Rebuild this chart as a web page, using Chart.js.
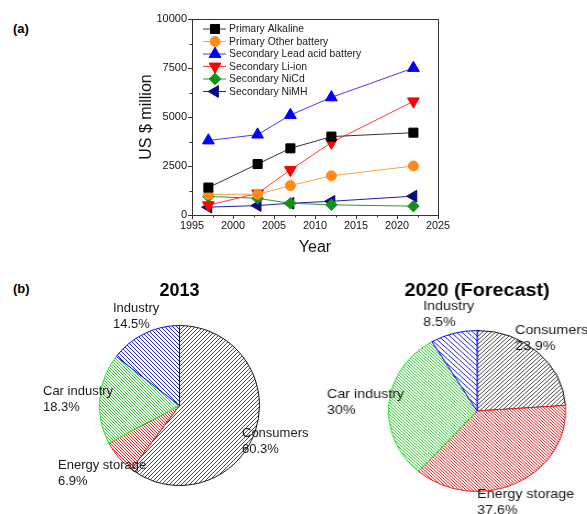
<!DOCTYPE html>
<html>
<head>
<meta charset="utf-8">
<script src="https://cdn.jsdelivr.net/npm/chart.js@4.4.1/dist/chart.umd.min.js"></script>
<style>
  html, body { margin: 0; padding: 0; background: #fff; }
  body { position: relative; width: 587px; height: 514px; overflow: hidden;
         font-family: "Liberation Sans", Arial, sans-serif; }
  canvas { position: absolute; }
  #market { left: 130px; top: 0; }
  #pie2013 { left: 0; top: 270px; }
  #pie2020 { left: 300px; top: 270px; transform: scaleX(1.1); transform-origin: 0 0; }
  .panel { position: absolute; font-weight: bold; font-size: 13px; color: #000; }
</style>
</head>
<body>
<div class="panel" style="left:13px;top:21px">(a)</div>
<div class="panel" style="left:13px;top:281px">(b)</div>
<canvas id="market" width="330" height="262"></canvas>
<canvas id="pie2013" width="330" height="244"></canvas>
<canvas id="pie2020" width="261" height="244"></canvas>
<script>
// ---- battery market, US $ million ----
const years = [1997, 2003, 2007, 2012, 2022];
const primaryAlkaline = [1400, 2600, 3400, 4000, 4200];
const primaryOther    = [1050, 1060, 1500, 2000, 2500];
const leadAcid        = [3800, 4100, 5100, 6000, 7500];
const liIon           = [500, 1100, 2300, 3700, 5800];
const niCd            = [950, 850, 600, 520, 450];
const niMH            = [400, 480, 600, 700, 960];
const seriesNames = ['Primary Alkaline', 'Primary Other battery', 'Secondary Lead acid battery',
                     'Secondary Li-ion', 'Secondary NiCd', 'Secondary NiMH'];
const xTicks = [1995, 2000, 2005, 2010, 2015, 2020, 2025];
const yTicks = [0, 2500, 5000, 7500, 10000];
const xMinorTicks = [1997.5, 2002.5, 2007.5, 2012.5, 2017.5, 2022.5];
const yMinorTicks = [1250, 3750, 6250, 8750];

// ---- application shares, % ----
const sectors = ['Consumers', 'Energy storage', 'Car industry', 'Industry'];
const share2013 = [60.3, 6.9, 18.3, 14.5];
const share2020 = [23.9, 37.6, 30, 8.5];

const FONT = '"Liberation Sans", Arial, sans-serif';
Chart.defaults.font.family = FONT;
const AXIS = '#333';

function pts(values) { return years.map((y, i) => ({ x: y, y: values[i] })); }

function series(label, values, line, marker, style, radius, rotation) {
  return {
    label, data: pts(values),
    borderColor: line, borderWidth: 1, backgroundColor: marker,
    pointStyle: style, pointRadius: radius, pointRotation: rotation || 0,
    pointBackgroundColor: marker, pointBorderColor: marker, pointBorderWidth: 1,
    tension: 0, fill: false
  };
}

// frame around the plot plus small minor ticks
const frameAndMinor = {
  id: 'frameAndMinor',
  afterDraw(chart) {
    const { ctx, chartArea: a, scales } = chart;
    ctx.save();
    ctx.strokeStyle = AXIS; ctx.lineWidth = 1;
    ctx.strokeRect(a.left + 0.5, a.top + 0.5, a.right - a.left, a.bottom - a.top);
    ctx.beginPath();
    yMinorTicks.forEach(v => {
      const y = Math.round(scales.y.getPixelForValue(v)) + 0.5;
      ctx.moveTo(a.left - 2.5, y); ctx.lineTo(a.left, y);
    });
    xMinorTicks.forEach(v => {
      const x = Math.round(scales.x.getPixelForValue(v)) + 0.5;
      ctx.moveTo(x, a.bottom); ctx.lineTo(x, a.bottom + 2.5);
    });
    ctx.stroke();
    ctx.restore();
  }
};

// legend drawn inside the plot, line through marker
const insetLegend = {
  id: 'insetLegend',
  afterDatasetsDraw(chart, args, o) {
    const { ctx, chartArea: a } = chart;
    ctx.save();
    chart.data.datasets.forEach((ds, i) => {
      const y = a.top + o.top + i * o.rowGap;
      const x0 = a.left + o.left;
      ctx.strokeStyle = ds.borderColor; ctx.lineWidth = 1;
      ctx.beginPath(); ctx.moveTo(x0, y); ctx.lineTo(x0 + o.lineLen, y); ctx.stroke();
      ctx.fillStyle = ds.pointBackgroundColor; ctx.strokeStyle = ds.pointBorderColor;
      Chart.helpers.drawPoint(ctx, {
        pointStyle: ds.pointStyle, radius: ds.pointRadius,
        rotation: ds.pointRotation, borderWidth: 1
      }, x0 + o.markerAt, y);
      ctx.fillStyle = '#1a1a1a';
      ctx.font = o.font;
      ctx.textAlign = 'left'; ctx.textBaseline = 'middle';
      ctx.fillText(ds.label, x0 + o.textAt, y + 0.5);
    });
    ctx.restore();
  }
};

new Chart(document.getElementById('market'), {
  type: 'line',
  data: {
    datasets: [
      series(seriesNames[0], primaryAlkaline, '#333333', '#000000', 'rect', 6.4),
      series(seriesNames[1], primaryOther, '#f5a43c', '#ff8c1a', 'circle', 5),
      series(seriesNames[2], leadAcid, '#3b3bff', '#0000ff', 'triangle', 6.8),
      series(seriesNames[3], liIon, '#ff3a3a', '#ff0000', 'triangle', 6.8, 180),
      series(seriesNames[4], niCd, '#2a9a2a', '#139313', 'rectRot', 5.8),
      series(seriesNames[5], niMH, '#2020a0', '#0a0a86', 'triangle', 6.8, -90)
    ]
  },
  options: {
    responsive: false, animation: false, events: [],
    layout: { padding: { left: 0, top: 19, right: 22, bottom: 0 } },
    plugins: {
      legend: { display: false }, tooltip: { enabled: false },
      insetLegend: { left: 11, lineLen: 23, markerAt: 12, textAt: 26, top: 10, rowGap: 12.5,
                     font: '10.4px ' + FONT }
    },
    scales: {
      x: {
        type: 'linear', min: xTicks[0], max: xTicks[xTicks.length - 1],
        afterBuildTicks: s => { s.ticks = xTicks.map(v => ({ value: v })); },
        afterFit: s => { s.height = 47; },
        ticks: { color: '#111', font: { size: 10.8 }, padding: 1, maxRotation: 0,
                 autoSkip: false, callback: v => String(v) },
        grid: { drawOnChartArea: false, tickLength: 4, tickColor: AXIS },
        border: { color: AXIS, width: 1 },
        title: { display: true, text: 'Year', color: '#111', font: { size: 16 },
                 padding: { top: 0, bottom: 5 } }
      },
      y: {
        min: yTicks[0], max: yTicks[yTicks.length - 1],
        afterBuildTicks: s => { s.ticks = yTicks.map(v => ({ value: v })); },
        afterFit: s => { s.width = 62; },
        ticks: { color: '#111', font: { size: 11 }, padding: 1, autoSkip: false,
                 callback: v => String(v) },
        grid: { drawOnChartArea: false, tickLength: 4, tickColor: AXIS },
        border: { color: AXIS, width: 1 },
        title: { display: true, text: 'US $ million', color: '#111', font: { size: 16 },
                 padding: { top: 7, bottom: 0 } }
      }
    }
  },
  plugins: [frameAndMinor, insetLegend]
});

// ---- hatched pies ----
function hatch(color, gap, dir, width) {
  const c = document.createElement('canvas');
  c.width = c.height = gap;
  const g = c.getContext('2d');
  g.fillStyle = '#fff'; g.fillRect(0, 0, gap, gap);
  g.strokeStyle = color; g.lineWidth = width;
  g.beginPath();
  if (dir === '/') {
    g.moveTo(-1, gap + 1); g.lineTo(gap + 1, -1);
    g.moveTo(-1, 1); g.lineTo(1, -1);
    g.moveTo(gap - 1, gap + 1); g.lineTo(gap + 1, gap - 1);
  } else {
    g.moveTo(-1, -1); g.lineTo(gap + 1, gap + 1);
    g.moveTo(gap - 1, -1); g.lineTo(gap + 1, 1);
    g.moveTo(-1, gap - 1); g.lineTo(1, gap + 1);
  }
  g.stroke();
  return g.createPattern(c, 'repeat');
}

const edgeColors = ['#1a1a1a', '#ee1c1c', '#22dd22', '#0a0af0'];

const pieText = {
  id: 'pieText',
  afterDraw(chart, args, o) {
    const ctx = chart.ctx;
    const arc = chart.getDatasetMeta(0).data[0];
    ctx.save();
    ctx.fillStyle = '#000';
    ctx.font = 'bold 18px ' + FONT;
    ctx.textAlign = 'center'; ctx.textBaseline = 'alphabetic';
    ctx.fillText(o.title, arc.x, o.titleY);
    ctx.font = '13px ' + FONT;
    ctx.textAlign = 'left';
    ctx.fillStyle = '#1a1a1a';
    const names = chart.data.labels, vals = chart.data.datasets[0].data;
    o.spots.forEach((p, i) => {
      ctx.fillText(names[i], p[0], p[1]);
      ctx.fillText(vals[i] + '%', p[0], p[1] + o.lead);
    });
    ctx.restore();
  }
};

function pie(id, shares, fills, pad, text) {
  return new Chart(document.getElementById(id), {
    type: 'pie',
    data: {
      labels: sectors,
      datasets: [{ data: shares, backgroundColor: fills, borderColor: edgeColors,
                   borderWidth: 1, hoverOffset: 0, offset: 0 }]
    },
    options: {
      responsive: false, animation: false, events: [],
      layout: { padding: pad },
      plugins: { legend: { display: false }, tooltip: { enabled: false }, pieText: text }
    },
    plugins: [pieText]
  });
}

pie('pie2013', share2013,
  [hatch('#4a4a4a', 4, '/', 1), hatch('#e42020', 3, '\\', 1),
   hatch('#30cc30', 3, '\\', 1), hatch('#2828d8', 4, '\\', 1)],
  { left: 99, right: 70, top: 55, bottom: 28 },
  { title: '2013', titleY: 26, lead: 16,
    spots: [[242, 167], [58, 199], [43, 125], [113, 42]] });

pie('pie2020', share2020,
  [hatch('#4a4a4a', 4, '/', 1), hatch('#e42020', 3, '\\', 1),
   hatch('#30cc30', 3, '\\', 1), hatch('#2828d8', 5, '\\', 1)],
  { left: 80, right: 19, top: 60, bottom: 22 },
  { title: '2020 (Forecast)', titleY: 26, lead: 16,
    spots: [[195.5, 64], [161, 228], [24.5, 128], [112, 40]] });
</script>
</body>
</html>
